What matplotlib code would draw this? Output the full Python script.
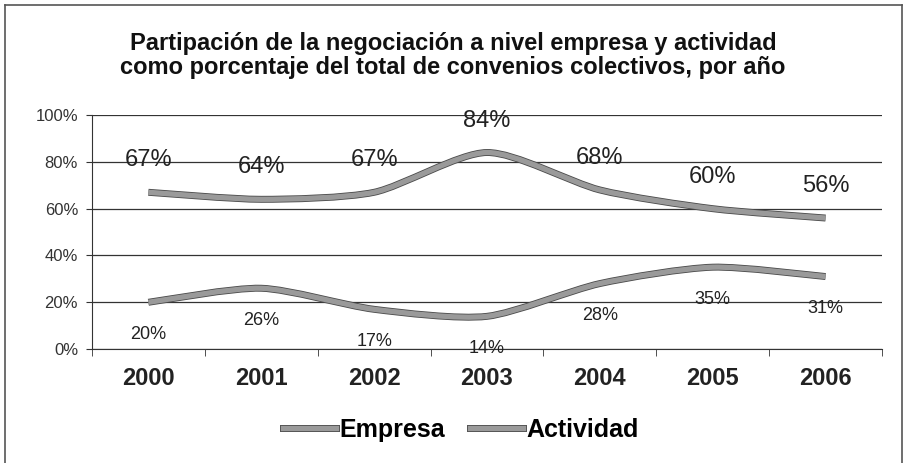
import matplotlib.pyplot as plt
import matplotlib.patheffects as pe
from matplotlib.path import Path
from matplotlib.patches import PathPatch
from matplotlib.lines import Line2D
from matplotlib.ticker import FixedLocator, PercentFormatter

plt.rcParams['font.family'] = ['Liberation Sans', 'DejaVu Sans']

years = ['2000', '2001', '2002', '2003', '2004', '2005', '2006']
empresa = [67, 64, 67, 84, 68, 60, 56]
actividad = [20, 26, 17, 14, 28, 35, 31]
title = ('Partipación de la negociación a nivel empresa y actividad\n'
         'como porcentaje del total de convenios colectivos, por año')

LINE_COLOR = '#9a9a9a'
EDGE_COLOR = '#4a4a4a'


def smooth_path(xs, ys, k=8):
    # Excel style smoothed line: cubic bezier through each point
    pts = list(zip(xs, ys))
    n = len(pts)
    verts = [pts[0]]
    codes = [Path.MOVETO]
    for i in range(n - 1):
        p0 = pts[max(i - 1, 0)]
        p1 = pts[i]
        p2 = pts[i + 1]
        p3 = pts[min(i + 2, n - 1)]
        c1 = (p1[0] + (p2[0] - p0[0]) / k, p1[1] + (p2[1] - p0[1]) / k)
        c2 = (p2[0] - (p3[0] - p1[0]) / k, p2[1] - (p3[1] - p1[1]) / k)
        verts += [c1, c2, p2]
        codes += [Path.CURVE4] * 3
    return Path(verts, codes)


def draw_series(ax, values, offset, size):
    xs = list(range(len(values)))
    ys = [v / 100 for v in values]
    patch = PathPatch(smooth_path(xs, ys), facecolor='none', edgecolor=LINE_COLOR,
                      lw=3.8, capstyle='butt', zorder=3)
    patch.set_path_effects([pe.Stroke(linewidth=5.0, foreground=EDGE_COLOR), pe.Normal()])
    ax.add_patch(patch)
    for x, y, v in zip(xs, ys, values):
        ax.annotate(f'{v}%', (x, y), xytext=(0, offset), textcoords='offset points',
                    ha='center', va='center', fontsize=size, color='#222222', zorder=4)


fig = plt.figure(figsize=(9.06, 4.63), dpi=100)
ax = fig.add_axes([0.1015, 0.246, 0.872, 0.5055])

ax.set_xlim(-0.5, 6.5)
ax.set_ylim(0, 1)
ax.yaxis.set_major_locator(FixedLocator([0, 0.2, 0.4, 0.6, 0.8, 1.0]))
ax.yaxis.set_major_formatter(PercentFormatter(1.0, decimals=0))
ax.grid(axis='y', color='#333333', lw=0.9)
ax.set_axisbelow(True)

ax.set_xticks(range(len(years)))
ax.set_xticklabels(years, fontsize=17, fontweight='bold', color='#222222')
ax.set_xticks([i - 0.5 for i in range(len(years) + 1)], minor=True)
ax.tick_params(axis='x', which='major', length=0, pad=13)
ax.tick_params(axis='x', which='minor', length=5, direction='out', color='#333333')
ax.tick_params(axis='y', length=4, labelsize=12, labelcolor='#333333', color='#333333', pad=6)

for s in ['top', 'right']:
    ax.spines[s].set_visible(False)
ax.spines['left'].set_color('#333333')
ax.spines['bottom'].set_color('#333333')

draw_series(ax, empresa, 23, 17)
draw_series(ax, actividad, -23, 13)

fig.text(0.5, 0.88, title, ha='center', va='center', fontsize=17, fontweight='bold',
         color='#111111', linespacing=1.05)

handles = []
for name in ['Empresa', 'Actividad']:
    h = Line2D([], [], color=LINE_COLOR, lw=3.8,
               path_effects=[pe.Stroke(linewidth=5.0, foreground=EDGE_COLOR), pe.Normal()])
    handles.append(h)
fig.legend(handles, ['Empresa', 'Actividad'], loc='center', bbox_to_anchor=(0.509, 0.072),
           ncol=2, frameon=False, prop={'size': 18, 'weight': 'bold'},
           handlelength=2.1, handletextpad=0.15, columnspacing=1.0)

# scanned frame: left, top and right edges
frame = dict(transform=fig.transFigure, color='#555555', lw=1.2)
fig.add_artist(Line2D([0.006, 0.006], [0.0, 0.99], **frame))
fig.add_artist(Line2D([0.006, 0.996], [0.99, 0.99], **frame))
fig.add_artist(Line2D([0.996, 0.996], [0.99, 0.0], **frame))

fig.savefig('out.png', dpi=100)
